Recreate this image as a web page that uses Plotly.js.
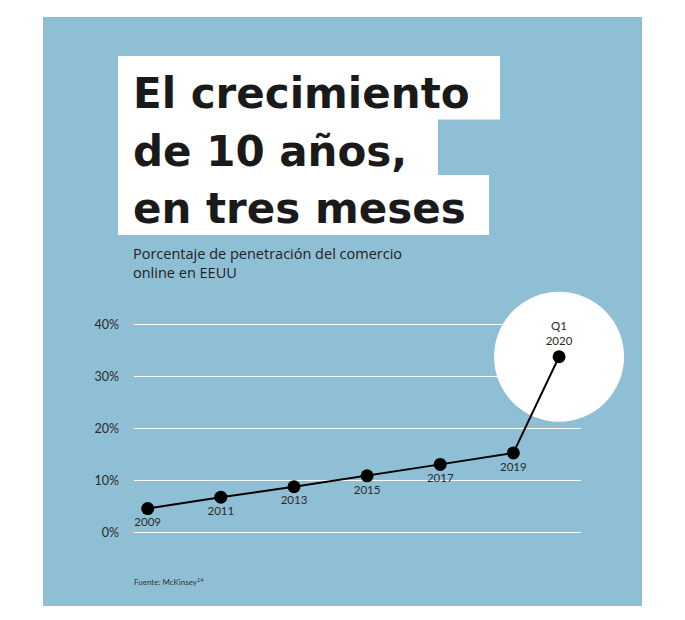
<!DOCTYPE html>
<html>
<head>
<meta charset="utf-8">
<script src="https://cdn.plot.ly/plotly-3.0.1.min.js"></script>
<style>html,body{margin:0;padding:0;background:#fff;}#chart{width:685px;height:620px;}</style>
</head>
<body>
<div id="chart"></div>
<script>
// Data
const pointLabels = ['2009', '2011', '2013', '2015', '2017', '2019', 'Q1<br>2020'];
const periods = [2009, 2011, 2013, 2015, 2017, 2019, 2020.25];
const penetration = [4.6, 6.8, 8.8, 10.9, 13.1, 15.3, 33.8];
const yTickVals = [0, 10, 20, 30, 40];
const yTickText = ['0%', '10%', '20%', '30%', '40%'];
const titleLines = ['El crecimiento', 'de 10 años,', 'en tres meses'];
const subtitleLines = ['Porcentaje de penetración del comercio', 'online en EEUU'];
const sourceText = 'Fuente: McKinsey<sup>14</sup>';

// Layout geometry (pixels)
const W = 685, H = 620;
const PL = 134, PR = 581, PT = 300, PB = 545;
const pw = PR - PL, ph = PB - PT;
const px = x => (x - PL) / pw;
const py = y => (PB - y) / ph;

const BLUE = '#8FBFD5';
const FONT = 'Lato, "Open Sans", sans-serif';
const SUB_FONT = '"Open Sans", Lato, sans-serif';
const TITLE_FONT = '"DejaVu Sans", sans-serif';

const last = penetration.length - 1;
const traces = [
  { // highlight circle behind the latest point
    x: [periods[last]], y: [penetration[last]],
    type: 'scatter', mode: 'markers',
    marker: {size: 130, color: '#ffffff', line: {width: 0}},
    hoverinfo: 'skip', showlegend: false, cliponaxis: false
  },
  {
    x: periods, y: penetration, text: pointLabels,
    type: 'scatter', mode: 'lines+markers+text',
    line: {color: '#000000', width: 2},
    marker: {size: 13, color: '#000000'},
    textposition: pointLabels.map((t, i) => i === last ? 'top center' : 'bottom center'),
    textfont: {family: FONT, size: 11.5, color: '#2a2a2a'},
    showlegend: false, cliponaxis: false
  }
];

const box = (x0, x1, y0, y1, color) => ({
  type: 'rect', xref: 'paper', yref: 'paper', layer: 'below',
  x0: px(x0), x1: px(x1), y0: py(y1), y1: py(y0),
  fillcolor: color, line: {width: 0}
});

const annotations = [];
const titleCenters = [94, 151, 208];
titleLines.forEach((t, i) => annotations.push({
  text: t, xref: 'paper', yref: 'paper', x: px(131), y: py(titleCenters[i]),
  xanchor: 'left', yanchor: 'middle', showarrow: false,
  font: {family: TITLE_FONT, size: 42, color: '#1a1a1a', weight: 'bold'}
}));
annotations.push({
  text: subtitleLines.join('<br>'), xref: 'paper', yref: 'paper', x: px(131), y: py(263),
  xanchor: 'left', yanchor: 'middle', align: 'left', showarrow: false,
  font: {family: SUB_FONT, size: 14.5, color: '#222222'}
});
annotations.push({
  text: sourceText, xref: 'paper', yref: 'paper', x: px(132), y: py(581),
  xanchor: 'left', yanchor: 'middle', showarrow: false,
  font: {family: FONT, size: 8, color: '#333333'}
});

const layout = {
  width: W, height: H,
  margin: {l: PL, r: W - PR, t: PT, b: H - PB, pad: 0},
  paper_bgcolor: '#ffffff', plot_bgcolor: 'rgba(0,0,0,0)',
  showlegend: false,
  xaxis: {
    range: [2008.625, 2020.85], showgrid: false, zeroline: false,
    showticklabels: false, showline: false, ticks: '', fixedrange: true
  },
  yaxis: {
    range: [-2.404, 44.71], tickvals: yTickVals, ticktext: yTickText,
    showgrid: true, gridcolor: '#ffffff', gridwidth: 1.5,
    zeroline: false, showline: false, ticks: '', ticklabelstandoff: 14,
    tickfont: {family: FONT, size: 12.5, color: '#2a2a2a'}, fixedrange: true
  },
  shapes: [
    box(43, 642, 17, 606, BLUE),
    box(118, 500, 56, 119.5, '#ffffff'),
    box(118, 438, 119, 175.5, '#ffffff'),
    box(118, 489, 175, 235, '#ffffff')
  ],
  annotations: annotations
};

Plotly.newPlot('chart', traces, layout, {displayModeBar: false, staticPlot: true});
</script>
</body>
</html>
